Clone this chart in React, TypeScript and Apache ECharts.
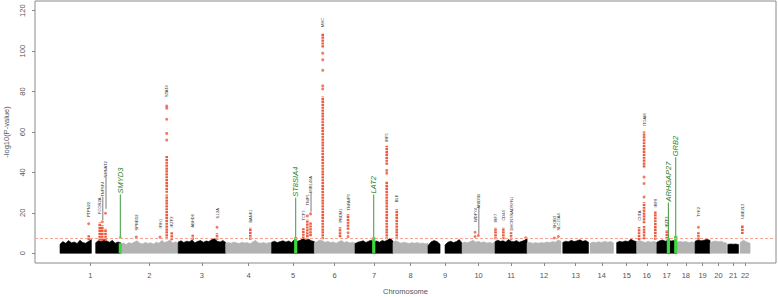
import React, { useEffect, useRef } from "react";
import * as echarts from "echarts";

// ---- chromosome layout (cumulative position, Mb) ----
const chromosomes = ["1","2","3","4","5","6","7","8","9","10","11","12","13","14","15","16","17","18","19","20","21","22"];
const blockChr = [1,1,2,3,4,5,6,7,8,9,9,10,11,12,13,14,15,16,17,18,19,20,21,22];
const blockStart = [0,157,267,520,729,931,1119,1298,1465,1619,1694,1769,1914,2055,2212,2332,2449,2537,2626,2713,2794,2860,2938,2992];
const blockEnd = [138,267,520,729,931,1119,1298,1465,1619,1672,1769,1914,2055,2204,2325,2435,2537,2626,2713,2794,2860,2933,2985,3036];
// envelope of the non-significant SNP cloud (-log10 P), read along each block
const blockHeights = [
  [4.5,5.8,5.0,6.3,5.2,5.6,4.8,6.5,5.3,5.0,5.9,6.8],
  [5.2,6.3,5.8,6.9,6.1,5.5,6.4,5.0,5.6,5.2],
  [4.6,5.1,4.4,5.3,4.8,5.6,6.2,5.0,4.7,5.4,4.9,5.2,4.6,5.5,5.0,6.4,5.3,5.8,6.6,5.1,5.7,4.8],
  [5.6,6.2,5.4,6.0,5.7,6.6,5.2,5.9,6.3,5.5,6.1,5.8,6.8,7.2,6.0,5.6,6.3,5.4],
  [4.9,5.4,5.0,5.6,5.2,4.8,5.5,5.1,5.3,4.7,5.6,6.4,5.2,5.0,5.4,4.9,5.3,5.1],
  [5.5,6.0,5.3,5.8,6.2,5.6,6.1,5.4,6.8,5.9,6.4,7.2,6.6,7.0,6.2,5.8],
  [5.2,5.8,6.6,6.2,5.5,5.9,5.3,5.6,5.0,5.7,6.3,5.4,5.8,5.1,5.5,5.2],
  [4.8,5.5,5.8,6.2,5.4,6.0,6.5,5.7,6.1,5.5,6.3,5.9,6.6,7.4,6.0],
  [5.4,6.2,5.6,5.0,5.5,5.2,4.8,5.3,5.0,5.4,4.9,5.1,4.7,5.0],
  [3.8,5.6,6.3,5.8,4.5],
  [4.2,5.5,6.0,5.3,5.8,6.8,5.0],
  [5.0,5.6,5.2,5.8,6.4,5.5,5.9,5.3,5.7,5.1,5.4,5.0,5.6],
  [5.8,6.5,5.9,6.2,5.6,6.8,6.0,5.7,6.3,5.5,5.9,6.4,7.3],
  [5.2,5.5,4.9,5.3,5.0,5.4,5.1,5.6,5.3,5.8,5.5,6.6,6.0],
  [5.4,6.0,5.7,6.4,5.8,6.2,6.7,5.9,6.3,5.5],
  [5.0,5.6,5.3,5.7,5.4,5.9,5.5,5.8,5.2],
  [5.3,5.9,5.6,6.1,5.8,7.0,6.2,5.7],
  [5.6,6.3,5.8,5.4,6.0,5.5,5.9,5.3],
  [5.5,6.2,6.6,6.0,6.5,6.1,6.3,5.8],
  [5.4,5.9,5.6,5.8,5.3,5.7,5.2],
  [6.0,6.6,6.2,6.5,7.0,6.3],
  [5.2,5.8,6.1,5.7,6.0,5.4,5.1],
  [4.4,4.6,4.5,4.6,4.3],
  [5.4,6.5,5.6,5.0],
];

// ---- significant loci ----
const locusNames = ["PTPN22","FCGR2A","TNFSF4","NMNAT2","SPRED2","IFIH1","STAT4","IKZF2","ABHD6","IL12A","BANK1","TCF7","TNIP1","MIR146A","MHC","PRDM1","TNFAIP3","IRF5","BLK","WDFY4","ARID5B","IRF7","CD44","DHCR7/NADSYN1","SH2B3","SLC15A4","CIITA","ITGAM","IRF8","IKZF3","TYK2","UBE2L3"];
const locusPos = [126.3,174.7,186.1,200.2,335.7,440,469.5,491.5,583.9,690.8,837.3,1070.5,1088.1,1102.2,1155.9,1232,1267.2,1437.5,1481.5,1826,1840.5,1916,1950.5,1984.4,2174.9,2192.5,2547.6,2569.6,2619,2669.5,2808.5,3002];
const locusLabelY = [17.9,19.5,28,37.5,11.3,12.3,77.3,12.8,12.8,17.2,15.2,16.2,23.7,30,112,15.2,21.2,55.1,25.3,15.5,22.2,15.2,16.2,11.3,12.3,11.3,16.2,62.9,22.7,12.8,17.9,17.1];
const locusLineTo = [null,null,16.5,22,null,null,null,null,null,null,null,null,null,20.5,null,null,null,null,null,null,9.5,null,null,null,null,null,null,null,null,null,null,null];

// continuous runs of significant SNPs: [position, low, high]
const redRuns = [
  [126.3,7,8.5],[174.7,6.8,14.6],[186.1,6.8,13.3],[200.2,6.8,11.6],
  [469.5,7.5,28.5],[469.5,30.5,47.5],[491.5,7,9.8],[583.9,7.3,8.8],[690.8,7.3,9.3],
  [837.3,7.3,12.1],[1070.5,7.8,11.8],[1088.1,8.5,16],[1102.2,9,15],
  [1155.9,7.5,77],[1155.9,102.4,108],[1232,8.5,12.3],[1267.2,12.3,18.7],
  [1437.5,7.5,35.2],[1437.5,44.4,52.6],[1481.5,7.5,21.2],
  [1916,7.5,12.2],[1950.5,7.5,12.2],[1984.4,7.3,9.8],
  [2547.6,7.1,12.4],[2569.6,7.5,12.9],[2569.6,15.4,24.7],[2569.6,43,59.6],
  [2619,7.3,20.4],[2669.5,7.6,10.9],[2808.5,7.3,9.8],[3002,10.1,13.4],
];
// isolated significant SNPs: [position, -log10 P]
const redPoints = [
  [126.3,14.6],[186.1,15.6],[200.2,19.8],[335.7,8],[440,8],
  [469.5,56],[469.5,59.3],[469.5,66.3],[469.5,71.8],[469.5,72.8],
  [690.8,12.9],[1088.1,18.5],[1102.2,19.5],
  [1155.9,99],[1155.9,95.7],[1155.9,90.5],[1155.9,82.8],[1155.9,81.3],
  [1267.2,10.2],[1267.2,8.3],[1437.5,41],[1437.5,39.6],
  [1826,10.4],[1826,8.3],[1840.5,8.8],[2049,7.7],[2174.9,7.6],[2192.5,8.3],
  [2569.6,37.7],[2569.6,34.5],[2569.6,27.8],[2808.5,12.9],
];

// ---- highlighted genes ----
const greenGenes = ["SMYD3","ST8SIA4","LAT2","ARHGAP27","GRB2"];
const greenPos = [265.3,1037,1380.3,2676.5,2709];
const greenTop = [5,8,8,7.5,8.7];
const greenLabelY = [28.6,27,28.6,24.6,47];
const greenLineFrom = [7.8,8,8,7.5,8.7];
const greenPoints = [[265.3,7.8]];

const threshold = 7.3;
const yTicks = [0,20,40,60,80,100,120];

const RED = "#ec5b3e";
const GREEN = "#3cd83c";
const DKGREEN = "#2a7f2a";
const FONT = "'Liberation Sans', Arial, sans-serif";

export default function App() {
  const ref = useRef<HTMLDivElement>(null);
  useEffect(() => {
    if (!ref.current) return;
    const chart = echarts.init(ref.current, null, { renderer: "svg" });

    const mids = chromosomes.map((_, c) => {
      let s = Infinity, e = -Infinity;
      blockChr.forEach((bc, i) => {
        if (bc === c + 1) { s = Math.min(s, blockStart[i]); e = Math.max(e, blockEnd[i]); }
      });
      return (s + e) / 2;
    });

    const option: any = {
      animation: false,
      grid: { left: 35, right: 2, top: 1, bottom: 34, show: true, borderColor: "#8a8a8a", borderWidth: 1, containLabel: false, outerBoundsMode: "none" },
      xAxis: {
        type: "value", min: -110, max: 3150,
        name: "Chromosome", nameLocation: "middle", nameGap: 24,
        nameTextStyle: { fontSize: 7.5, color: "#555", fontFamily: FONT },
        axisLine: { show: false, onZero: false },
        axisTick: { show: true, length: 3, lineStyle: { color: "#8a8a8a" }, customValues: mids },
        axisLabel: {
          fontSize: 7.5, color: "#555", fontFamily: FONT, margin: 8, customValues: mids,
          formatter: (v: number) => {
            const i = mids.findIndex((m) => Math.abs(m - v) < 0.01);
            return i >= 0 ? chromosomes[i] : "";
          },
        },
        splitLine: { show: false },
      },
      yAxis: {
        type: "value", min: -4.8, max: 124.8,
        name: "-log10(P-value)", nameLocation: "middle", nameGap: 25, nameRotate: 90,
        nameTextStyle: { fontSize: 7.5, color: "#555", fontFamily: FONT },
        axisLine: { show: false, onZero: false },
        axisTick: { show: true, length: 3, lineStyle: { color: "#8a8a8a" }, customValues: yTicks },
        axisLabel: { fontSize: 7.5, color: "#555", fontFamily: FONT, rotate: 90, margin: 9, customValues: yTicks },
        splitLine: { show: false },
      },
      series: [
        {
          type: "custom", name: "background",
          data: blockStart.map((s, i) => [s, blockEnd[i]]),
          renderItem: (params: any, api: any) => {
            const i = params.dataIndex;
            const s = blockStart[i], e = blockEnd[i], h = blockHeights[i];
            const n = h.length;
            const pts: number[][] = [api.coord([s, 0])];
            for (let k = 0; k < n; k++) {
              const x = s + ((e - s) * k) / (n - 1);
              pts.push(api.coord([x, h[k]]));
            }
            pts.push(api.coord([e, 0]));
            const col = blockChr[i] % 2 === 1 ? "#000000" : "#b3b3b3";
            return { type: "polygon", shape: { points: pts }, style: { fill: col, stroke: col, lineWidth: 0.6 } };
          },
          z: 1,
        },
        {
          type: "custom", name: "green",
          data: greenPos.map((p, i) => [p, greenTop[i]]),
          renderItem: (params: any, api: any) => {
            const i = params.dataIndex;
            const [x, y0] = api.coord([greenPos[i], 0]);
            const [, y1] = api.coord([greenPos[i], greenTop[i]]);
            const [, yl] = api.coord([greenPos[i], greenLabelY[i]]);
            const [, yf] = api.coord([greenPos[i], greenLineFrom[i]]);
            return {
              type: "group",
              children: [
                { type: "rect", shape: { x: x - 1.6, y: y1, width: 3.2, height: y0 - y1 }, style: { fill: GREEN } },
                { type: "line", shape: { x1: x, y1: yf, x2: x, y2: yl - 1 }, style: { stroke: "#3a9a3a", lineWidth: 1 } },
                {
                  type: "text", x: x, y: yl - 2, rotation: Math.PI / 2,
                  style: { text: greenGenes[i], fontSize: 7.5, fontStyle: "italic", fontFamily: FONT, fill: DKGREEN, align: "left", verticalAlign: "middle" },
                },
              ],
            };
          },
          z: 3,
        },
        {
          type: "scatter", name: "green points", data: greenPoints,
          symbol: "circle", symbolSize: 3, itemStyle: { color: GREEN }, z: 4,
        },
        {
          type: "custom", name: "red runs",
          data: redRuns,
          renderItem: (params: any, api: any) => {
            const r = redRuns[params.dataIndex];
            const [x, yl] = api.coord([r[0], r[1]]);
            const [, yh] = api.coord([r[0], r[2]]);
            return {
              type: "line",
              shape: { x1: x, y1: yl + 1.2, x2: x, y2: yh - 1.2 },
              style: { stroke: RED, lineWidth: 2.6, lineDash: [2.2, 0.7] },
            };
          },
          z: 4,
        },
        {
          type: "scatter", name: "red points", data: redPoints,
          symbol: "circle", symbolSize: 3, itemStyle: { color: RED }, z: 4,
          markLine: {
            silent: true, symbol: "none", label: { show: false },
            lineStyle: { type: [3, 2], color: "#f5a494", width: 1 },
            data: [{ yAxis: threshold }],
          },
        },
        {
          type: "custom", name: "labels",
          data: locusPos.map((p, i) => [p, locusLabelY[i]]),
          renderItem: (params: any, api: any) => {
            const i = params.dataIndex;
            const [x, y] = api.coord([locusPos[i], locusLabelY[i]]);
            const children: any[] = [
              {
                type: "text", x, y, rotation: Math.PI / 2,
                style: { text: locusNames[i], fontSize: 4, fontFamily: FONT, fill: "#333", align: "left", verticalAlign: "middle" },
              },
            ];
            const lt = locusLineTo[i];
            if (lt !== null) {
              const [, y2] = api.coord([locusPos[i], lt]);
              children.push({ type: "line", shape: { x1: x + 0.5, y1: y, x2: x + 0.5, y2 }, style: { stroke: "#444", lineWidth: 0.7 } });
            }
            return { type: "group", children };
          },
          z: 5,
        },
      ],
    };
    chart.setOption(option);
    return () => chart.dispose();
  }, []);
  return <div ref={ref} style={{ position: "fixed", left: 0, top: 0, width: 778, height: 297, background: "#fff" }} />;
}
